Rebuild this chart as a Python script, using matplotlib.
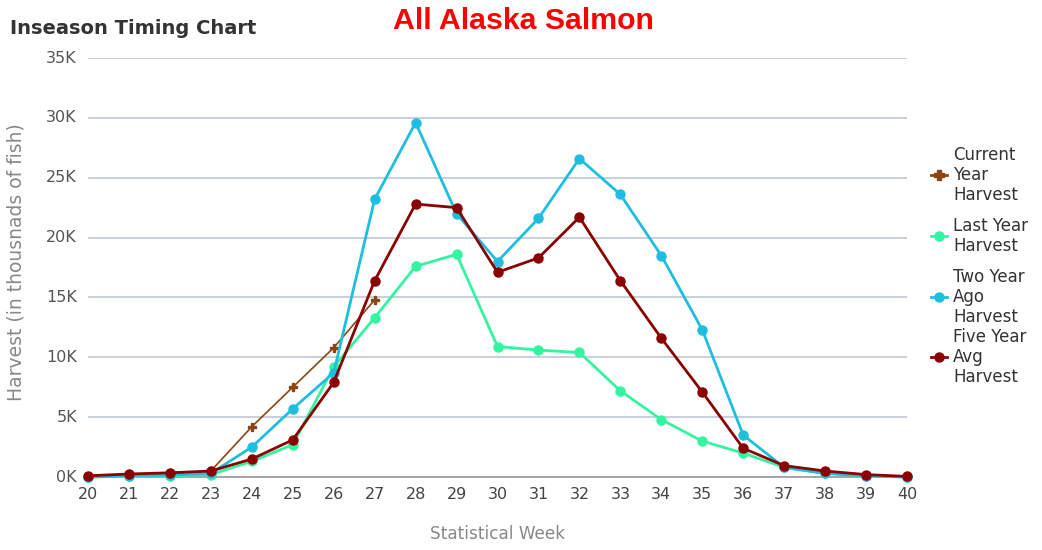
import matplotlib
matplotlib.use("Agg")
import matplotlib.pyplot as plt
from matplotlib.lines import Line2D

weeks = list(range(20, 41))
current_weeks = [20, 21, 22, 23, 24, 25, 26, 27]
current_year = [0, 50, 150, 500, 4200, 7500, 10800, 14800]
last_year = [0, 50, 100, 200, 1300, 2700, 9200, 13300, 17600, 18600, 10900,
             10600, 10400, 7200, 4800, 3000, 2000, 800, 300, 100, 0]
two_year_ago = [0, 100, 150, 300, 2500, 5700, 8700, 23200, 29600, 22000, 18000,
                21600, 26600, 23600, 18500, 12300, 3500, 800, 300, 100, 0]
five_year_avg = [100, 250, 350, 500, 1500, 3100, 7900, 16400, 22800, 22500, 17100,
                 18300, 21700, 16400, 11600, 7100, 2400, 950, 500, 200, 50]
yticks = [0, 5000, 10000, 15000, 20000, 25000, 30000, 35000]
ytick_labels = ["0K", "5K", "10K", "15K", "20K", "25K", "30K", "35K"]
legend_labels = ["Current\nYear\nHarvest", "Last Year\nHarvest",
                 "Two Year\nAgo\nHarvest", "Five Year\nAvg\nHarvest"]

c_cur = "#8B4513"
c_last = "#33F5A0"
c_two = "#1EBEE0"
c_five = "#8B0000"

W, H = 1042, 550
fig = plt.figure(figsize=(W / 100, H / 100), dpi=100)
ax = fig.add_axes([88 / W, 1 - 477 / H, (907 - 88) / W, (477 - 58) / H])

ax.plot(current_weeks, current_year, color=c_cur, lw=1.2, marker="P", ms=6, zorder=3)
ax.plot(weeks, last_year, color=c_last, lw=2.0, marker="o", ms=6.5, zorder=4)
ax.plot(weeks, two_year_ago, color=c_two, lw=2.0, marker="o", ms=6.5, zorder=5)
ax.plot(weeks, five_year_avg, color=c_five, lw=2.0, marker="o", ms=6.5, zorder=6)

ax.set_xlim(20, 40)
ax.set_ylim(0, 35000)
ax.set_xticks(weeks)
ax.set_xticklabels([str(w) for w in weeks])
ax.set_yticks(yticks)
ax.set_yticklabels(ytick_labels)
ax.grid(axis="y", color="#C5CCD8", lw=1.3)
ax.set_axisbelow(True)
for s in ["left", "right", "top"]:
    ax.spines[s].set_visible(False)
ax.spines["bottom"].set_color("#A0A0A0")
ax.spines["bottom"].set_linewidth(1.3)
ax.tick_params(axis="y", length=0, pad=8, labelsize=11.5, labelcolor="#555555")
ax.tick_params(axis="x", length=0, pad=7, labelsize=11.5, labelcolor="#444444")
for lbl in ax.get_yticklabels():
    lbl.set_verticalalignment("center")
for ln in ax.lines:
    ln.set_clip_on(False)

ax.set_xlabel("Statistical Week", color="#888888", fontsize=12.2, labelpad=17)
ax.set_ylabel("Harvest (in thousnads of fish)", color="#888888", fontsize=13.5)
ax.yaxis.set_label_coords((26 - 88) / (907 - 88), (477 - 262) / (477 - 58))

fig.text(10 / W, 1 - 28 / H, "Inseason Timing Chart", fontsize=14, fontweight="bold",
         color="#333333", va="center", ha="left")
fig.text(523 / W, 1 - 21 / H, "All Alaska Salmon", fontsize=21.8, fontweight="bold",
         color="#FF0000", va="center", ha="center", family="Liberation Sans")

# legend
centers = [175, 236, 297, 357]
colors = [c_cur, c_last, c_two, c_five]
markers = ["P", "o", "o", "o"]
for cy, lab, col, mk in zip(centers, legend_labels, colors, markers):
    y = 1 - cy / H
    fig.add_artist(Line2D([931 / W, 947 / W], [y, y], color=col, lw=2,
                          transform=fig.transFigure))
    fig.add_artist(Line2D([939 / W], [y], color=col, marker=mk, ms=6.5,
                          transform=fig.transFigure))
    fig.text(953 / W, y, lab, fontsize=12, color="#333333", va="center", ha="left",
             linespacing=1.15)

fig.savefig("out.png", dpi=100, facecolor="white")
